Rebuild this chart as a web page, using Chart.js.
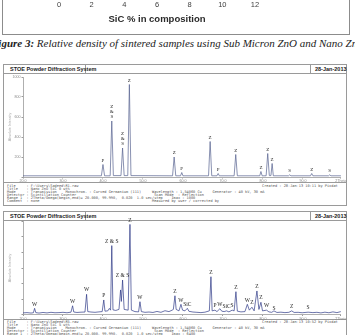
<!DOCTYPE html>
<html>
<head>
<meta charset="utf-8">
<script src="https://cdn.jsdelivr.net/npm/chart.js@4.4.1/dist/chart.umd.min.js"></script>
<style>
  body { margin:0; width:355px; height:335px; overflow:hidden; position:relative; background:#fff; font-family:"Liberation Sans", Arial, sans-serif; }
  .abs { position:absolute; }
  canvas { position:absolute; }
  .box { position:absolute; border:1px solid #9a9a9a; box-sizing:border-box; }
  .hdr { position:absolute; font-size:5.5px; font-weight:bold; color:#222; white-space:nowrap; }
  .info { position:absolute; font-size:3.6px; line-height:3.1px; color:#555; white-space:pre; font-family:"DejaVu Sans Mono", monospace; }
  .cap { position:absolute; left:-9px; top:37px; white-space:nowrap; font-family:"Liberation Serif", serif; font-style:italic; font-size:11px; color:#222; }
</style>
</head>
<body>

<!-- top excel chart, only the x axis is in view -->
<div class="box" style="left:2px; top:-2px; width:348px; height:37px; border-color:#8c8c8c;"></div>
<canvas id="topChart" style="left:0; top:-53px;" width="355" height="80"></canvas>
<div class="cap"><b>Figure 3:</b> Relative density of sintered samples using Sub Micron ZnO and Nano ZnO</div>

<!-- panel 1 -->
<div class="box" style="left:3px; top:64px; width:344px; height:142px;"></div>
<div class="abs" style="left:3px; top:73px; width:344px; border-top:1px solid #9a9a9a;"></div>
<div class="abs" style="left:85px; top:64px; height:9px; border-left:1px solid #9a9a9a;"></div>
<div class="abs" style="left:310px; top:64px; height:9px; border-left:1px solid #9a9a9a;"></div>
<div class="hdr" style="left:10px; top:65.5px;">STOE Powder Diffraction System</div>
<div class="hdr" style="left:315px; top:65.5px;">28-Jan-2013</div>
<div class="abs" style="left:3px; top:182px; width:344px; border-top:1px solid #9a9a9a;"></div>
<div class="info" style="left:7px; top:185px;">File     : F:\Users\Sadeed\R1.raw
Title    : Nano ZnO SiC 0 wt%
Mode     : Transmission    Monochrom. : Curved Germanium (111)     Wavelength : 1.54060 Cu     Generator : 40 kV, 30 mA
Detector : Scintillation Counter                                    Scan Mode  : Reflection
Range 1  : 2Theta/Omega(begin,end)= 20.000, 99.990,  0.020  1.0 sec/step    Imax : 1000
Comment  : none                                                    Measured by user / corrected by</div>
<div class="info" style="left:262px; top:185px;">Created : 28-Jan-13 10:11 by Pixdat</div>
<canvas id="xrd1" style="left:3px; top:73px;" width="344" height="109"></canvas>

<!-- panel 2 -->
<div class="box" style="left:3px; top:211px; width:344px; height:130px;"></div>
<div class="abs" style="left:3px; top:220px; width:344px; border-top:1px solid #9a9a9a;"></div>
<div class="abs" style="left:85px; top:211px; height:9px; border-left:1px solid #9a9a9a;"></div>
<div class="abs" style="left:310px; top:211px; height:9px; border-left:1px solid #9a9a9a;"></div>
<div class="hdr" style="left:10px; top:212.5px;">STOE Powder Diffraction System</div>
<div class="hdr" style="left:315px; top:212.5px;">28-Jan-2013</div>
<div class="abs" style="left:3px; top:319px; width:344px; border-top:1px solid #9a9a9a;"></div>
<div class="info" style="left:7px; top:321px;">File     : F:\Users\Sadeed\R5.raw
Title    : Nano ZnO SiC 5 wt%
Mode     : Transmission    Monochrom. : Curved Germanium (111)     Wavelength : 1.54060 Cu     Generator : 40 kV, 30 mA
Detector : Scintillation Counter                                    Scan Mode  : Reflection
Range 1  : 2Theta/Omega(begin,end)= 20.000, 99.990,  0.020  1.0 sec/step    Imax : 6400</div>
<div class="info" style="left:262px; top:321px;">Created : 28-Jan-13 10:52 by Pixdat</div>
<canvas id="xrd2" style="left:3px; top:214px;" width="344" height="106"></canvas>

<script>
// top chart: only its x axis shows
var sicTicks = [0, 2, 4, 6, 8, 10, 12];

// panel 1 trace (2theta, counts)
var theta1 = [20, 39.6, 40.0, 40.4, 41.8, 42.2, 42.6, 44.5, 44.9, 45.3, 46.2, 46.6, 47.0,
  57.4, 57.8, 58.2, 59.4, 59.7, 60.0, 66.4, 66.8, 67.2, 68.5, 68.8, 69.1, 72.8, 73.2, 73.6,
  79.2, 79.5, 79.8, 80.8, 81.2, 81.6, 82.0, 82.3, 82.6, 86.4, 86.7, 87.0, 91.9, 92.2, 92.5,
  96.4, 96.7, 97.0, 99.5];
var counts1 = [12, 12, 125, 12, 12, 560, 14, 14, 290, 14, 14, 925, 14,
  12, 200, 12, 12, 45, 12, 12, 355, 12, 12, 35, 12, 12, 225, 12,
  12, 55, 12, 12, 235, 14, 14, 135, 12, 12, 22, 12, 12, 35, 12,
  12, 22, 12, 12];
var peakPos1 = [40.0, 42.2, 44.9, 46.6, 57.8, 59.7, 66.8, 68.8, 73.2, 79.5, 81.2, 82.3, 86.7, 92.2, 96.7];
var peakTop1 = [125, 560, 290, 925, 200, 45, 355, 35, 225, 55, 235, 135, 22, 35, 22];
var peakTag1 = ["P", "Z\n&\nS", "Z\n&\nS", "Z", "Z", "P", "Z", "P", "Z", "Z", "Z", "Z", "S", "Z", "S"];

// panel 2 trace
var theta2 = [20.0, 21, 22, 22.6, 22.9, 23.2, 24, 25, 26, 27, 28, 29, 30, 31, 32, 32.4, 32.7,
  33.5, 34.5, 35.5, 35.9, 36.2, 37, 38, 39, 39.8, 40.2, 40.5, 41.2, 41.6, 41.9, 42.2, 42.5,
  43.2, 44.0, 44.4, 44.6, 44.9, 45.3, 46.3, 46.75, 47.1, 48, 48.9, 49.25, 49.6, 50.5, 51.5,
  52.5, 53.5, 54.5, 55.5, 56.5, 57.3, 57.6, 58.0, 58.3, 59.0, 59.5, 59.9, 60.5, 61.1, 61.5,
  62.5, 63.5, 64.5, 65.5, 66.6, 67.0, 67.3, 68.0, 68.5, 69.25, 69.7, 70.3, 70.9, 71.5, 72.3,
  72.8, 73.25, 73.6, 74.5, 75.5, 76.1, 76.6, 77.25, 77.8, 78.5, 79.0, 79.5, 79.9, 80.9, 81.5,
  82.2, 82.75, 83.5, 84.5, 85.5, 86.5, 87.2, 87.8, 88.8, 89.8, 91.3, 92.5, 93.5, 94.5, 95.5,
  96.5, 97.5, 98.5, 99.5];
var counts2 = [110, 130, 100, 120, 425, 130, 100, 140, 110, 150, 120, 130, 150, 120, 160, 600, 170,
  140, 160, 170, 1390, 200, 170, 150, 180, 200, 1000, 230, 250, 420, 300, 4740, 320,
  280, 350, 1690, 900, 2370, 350, 300, 6200, 300, 200, 180, 880, 200, 150, 170,
  140, 210, 150, 260, 200, 300, 350, 1290, 350, 250, 700, 300, 250, 425, 220,
  170, 150, 130, 160, 250, 2600, 250, 300, 200, 400, 230, 200, 250, 180, 300,
  250, 1570, 230, 180, 200, 700, 300, 500, 250, 1620, 350, 840, 250, 300, 180,
  150, 250, 140, 160, 130, 150, 250, 140, 150, 120, 160, 130, 150, 110, 160,
  120, 180, 130, 200];
var peakPos2 = [22.9, 32.4, 35.9, 40.2, 42.2, 44.9, 46.75, 49.25, 58.0, 59.5, 61.1, 67.0, 68.0,
  69.25, 70.9, 72.3, 73.25, 76.1, 77.25, 78.5, 79.5, 80.9, 82.75, 87.2, 91.3];
var peakTop2 = [425, 600, 1390, 1000, 4740, 2370, 6200, 880, 1290, 700, 425, 2600, 300,
  400, 250, 300, 1570, 700, 500, 1620, 840, 300, 150, 250, 160];
var peakTag2 = ["W", "W", "W", "P", "Z & S", "Z & S", "Z", "W", "Z", "W", "SiC", "Z", "P",
  "W", "SiC", "S", "Z", "W", "Z", "Z", "Z", "W", "S", "Z", "S"];

var peakLabels = {
  id: "peakLabels",
  afterDatasetsDraw(chart, args, opts) {
    if (!opts.pos) return;
    const ctx = chart.ctx;
    const x = chart.scales.x, y = chart.scales.y;
    ctx.save();
    ctx.font = opts.font;
    ctx.fillStyle = "#1e1e1e";
    ctx.textAlign = "center";
    ctx.textBaseline = "bottom";
    for (let i = 0; i < opts.pos.length; i++) {
      const lines = opts.tags[i].split("\n");
      const px = x.getPixelForValue(opts.pos[i]);
      let py = y.getPixelForValue(opts.top[i]) - opts.gap;
      for (let j = lines.length - 1; j >= 0; j--) {
        ctx.fillText(lines[j], px, py);
        py -= opts.lineH;
      }
    }
    ctx.restore();
  }
};
Chart.register(peakLabels);

new Chart(document.getElementById("topChart"), {
  type: "scatter",
  data: { datasets: [{ data: [] }] },
  options: {
    responsive: false, animation: false,
    layout: { padding: { left: 59, right: 100, top: 0, bottom: 0 } },
    plugins: { legend: { display: false }, tooltip: { enabled: false } },
    scales: {
      y: { display: false, min: 0, max: 1 },
      x: {
        min: 0, max: 12,
        afterBuildTicks: (s) => { s.ticks = sicTicks.map(v => ({ value: v })); },
        afterFit: (s) => { s.height = 26.5; },
        grid: { display: false, drawTicks: false },
        border: { display: false },
        ticks: { color: "#404040", font: { family: "Liberation Sans", size: 7.5 }, padding: 0 },
        title: { display: true, text: "SiC % in composition", color: "#2a2a2a",
          font: { family: "Liberation Sans", size: 9.5, weight: "bold" }, padding: { top: 4, bottom: 2 } }
      }
    }
  }
});

function makeXrd(id, theta, counts, yMax, yStep, pos, top, tags, o) {
  new Chart(document.getElementById(id), {
    type: "scatter",
    data: { datasets: [{
      data: theta.map((t, i) => ({ x: t, y: counts[i] })),
      showLine: true, borderColor: o.color, borderWidth: o.lw, pointRadius: 0, tension: 0
    }] },
    options: {
      responsive: false, animation: false,
      layout: { padding: { left: 0, right: 6, top: o.padTop, bottom: 0 } },
      plugins: {
        legend: { display: false }, tooltip: { enabled: false },
        peakLabels: { pos: pos, top: top, tags: tags, font: o.lblFont, gap: o.gap, lineH: o.lineH }
      },
      scales: {
        x: {
          min: 20, max: 99.5,
          afterBuildTicks: (s) => {
            s.ticks = [20, 30, 40, 50, 60, 70, 80, 90, 99.5].map(v => ({ value: v }));
          },
          afterFit: (s) => { s.height = o.xh; },
          grid: { drawOnChartArea: false, tickLength: 1.5, color: "#9a9a9a" },
          border: { color: "#9a9a9a", width: 0.8 },
          ticks: { autoSkip: false, maxRotation: 0, padding: 0.5, color: "#888",
            font: { size: 3.6 },
            callback: (v) => v === 99.5 ? "2Theta" : v.toFixed(1) }
        },
        y: {
          min: 0, max: yMax,
          ticks: { stepSize: yStep, padding: 1, color: "#888", font: { size: 3.6 },
            callback: (v) => (v > 0 && v % yStep === 0) ? String(v) : "" },
          afterFit: (s) => { s.width = 20; },
          grid: { drawOnChartArea: false, tickLength: 1.5, color: "#9a9a9a" },
          border: { color: "#9a9a9a", width: 0.8 },
          title: { display: true, text: "Absolute Intensity", color: "#aaa", font: { size: 3.6 }, padding: { top: 5, bottom: 0 } }
        }
      }
    }
  });
}

makeXrd("xrd1", theta1, counts1, 1000, 200, peakPos1, peakTop1, peakTag1,
  { color: "#56618f", lw: 0.7, padTop: 4, xh: 5, lblFont: "5px 'Liberation Serif'", gap: 1.5, lineH: 5 });
makeXrd("xrd2", theta2, counts2, 6400, 1000, peakPos2, peakTop2, peakTag2,
  { color: "#2e3a86", lw: 0.7, padTop: 7.5, xh: 5.5, lblFont: "5.5px 'Liberation Serif'", gap: 1.5, lineH: 5 });
</script>
</body>
</html>
